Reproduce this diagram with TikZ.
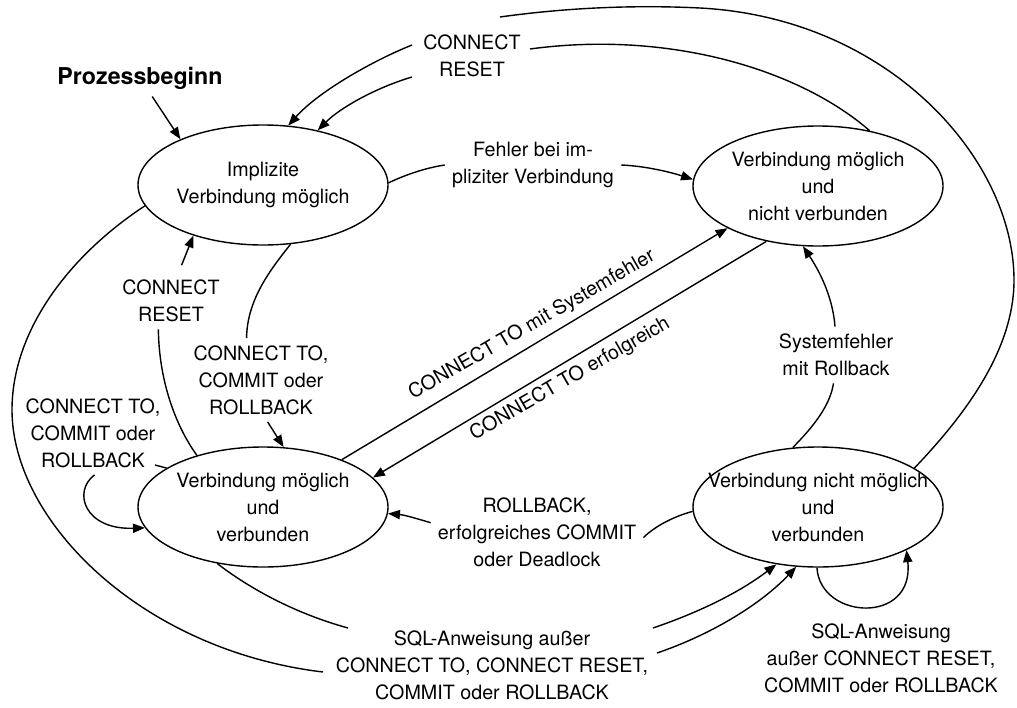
\documentclass[tikz,border=0pt]{standalone}
\usepackage{fontspec}
\setmainfont{TeX Gyre Heros}
\usetikzlibrary{arrows.meta, shapes.geometric}

\begin{document}
\begin{tikzpicture}[x=0.5pt, y=-0.5pt, line width=0.7pt,
	font=\fontsize{9.85pt}{13.5pt}\selectfont,
	state/.style={shape=ellipse, draw=black, align=center, minimum width=125pt, minimum height=60pt, inner xsep=-20pt, inner ysep=-10pt},
	lbl/.style={align=center},
	arr/.style={-{Triangle[length=6pt, width=4.6pt]}}]

	\useasboundingbox (0, 0) rectangle (1017, 707);

	\node[state] (s1) at (263, 185) {Implizite\\Verbindung möglich};
	\node[state] (s2) at (818, 186) {Verbindung möglich\\und\\nicht verbunden};
	\node[state] (s3) at (263, 507) {Verbindung möglich\\und\\verbunden};
	\node[state] (s4) at (818, 507) {Verbindung nicht möglich\\und\\verbunden};

	\node[font=\fontsize{11.6pt}{14pt}\selectfont\bfseries] (start) at (140, 78) {Prozessbeginn};
	\node[lbl] (reset1) at (472, 56) {CONNECT\\RESET};
	\node[lbl] (fehler) at (533, 165) {Fehler bei im-\\pliziter Verbindung};
	\node[lbl] (reset2) at (171, 301) {CONNECT\\RESET};
	\node[lbl] (to1) at (261, 380) {CONNECT TO,\\COMMIT oder\\ROLLBACK};
	\node[lbl] (to2) at (93, 433) {CONNECT TO,\\COMMIT oder\\ROLLBACK};
	\node[lbl, rotate=30] (tofehl) at (532, 325) {CONNECT TO mit Systemfehler};
	\node[lbl, rotate=30] (toerf) at (570, 379) {CONNECT TO erfolgreich};
	\node[lbl] (sysroll) at (836, 355) {Systemfehler\\mit Rollback};
	\node[lbl] (commit) at (537, 532) {ROLLBACK,\\erfolgreiches COMMIT\\oder Deadlock};
	\node[lbl] (sql1) at (492, 665) {SQL-Anweisung außer\\CONNECT TO, CONNECT RESET,\\COMMIT oder ROLLBACK};
	\node[lbl] (sql2) at (881, 658) {SQL-Anweisung\\außer CONNECT RESET,\\COMMIT oder ROLLBACK};

	\coordinate (r1a) at (500, 17);
	\coordinate (r1b) at (412, 45);
	\coordinate (r1c) at (530, 49);
	\coordinate (r1d) at (412, 77);
	\coordinate (l1) at (155, 465);
	\coordinate (q1) at (323, 672);
	\coordinate (q2) at (348, 628);
	\coordinate (q3) at (653, 628);
	\coordinate (q4) at (657, 653);

	\draw[arr] (start) -- (s1.151);

	\draw (s4.22) .. controls (965, 415) and (1014, 350) .. (1014, 280) .. controls (1014, 160) and (890, 18) .. (700, 8) .. controls (620, 4) and (550, 10) .. (r1a);
	\draw[arr] (r1b) .. controls (372, 61) and (318, 92) .. (s1.67);
	\draw (s2.47) .. controls (800, 70) and (670, 30) .. (r1c);
	\draw[arr] (r1d) .. controls (375, 88) and (340, 108) .. (s1.45);

	\draw (s1.1) .. controls (405, 175) and (425, 168) .. (fehler.west);
	\draw[arr] (fehler.east) .. controls (645, 166) and (670, 172) .. (s2.177);

	\draw[arr] (s3.31) -- (s2.205);
	\draw[arr] (s2.227) -- (s3.15);

	\draw (s3.142) .. controls (175, 425) and (159, 380) .. (reset2.246);
	\draw[arr, shorten <=4pt] (reset2.75) -- (s1.216);
	\draw (s1.295) .. controls (270, 270) and (247, 300) .. (to1.109);
	\draw[arr] (to1.279) -- (s3.71);
	\draw (l1) -- (s3.158);
	\draw[arr] (to2.272) .. controls (72, 492) and (85, 530) .. (s3.190);

	\draw (s1.190) .. controls (70, 255) and (12, 330) .. (12, 410) .. controls (12, 520) and (140, 650) .. (q1);
	\draw (s3.231) .. controls (245, 585) and (290, 612) .. (q2);
	\draw[arr] (q3) .. controls (700, 612) and (740, 592) .. (s4.234);
	\draw[arr] (q4) .. controls (710, 635) and (760, 605) .. (s4.250);

	\draw (s4.113) .. controls (815, 425) and (830, 405) .. (sysroll.265);
	\draw[arr] (sysroll.92) .. controls (833, 300) and (822, 275) .. (s2.256);

	\draw (s4.182) .. controls (675, 516) and (655, 526) .. (commit.357);
	\draw[arr] (commit.175) .. controls (418, 519) and (405, 515) .. (s3.357);

	\draw[arr] (s4.269) .. controls (820, 620) and (915, 625) .. (s4.334);

\end{tikzpicture}
\end{document}
